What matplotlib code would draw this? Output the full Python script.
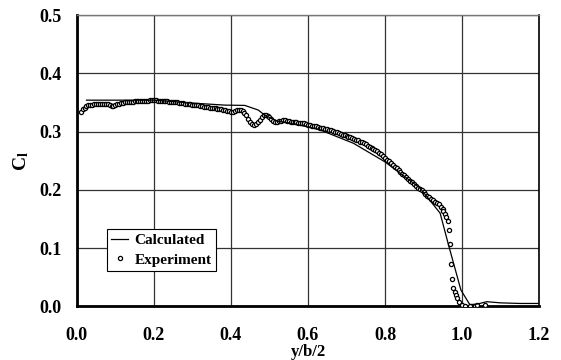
import numpy as np
import matplotlib
matplotlib.use("Agg")
import matplotlib.pyplot as plt

plt.rcParams['font.family'] = ['Liberation Serif', 'DejaVu Serif']
plt.rcParams['font.weight'] = 'bold'
plt.rcParams['mathtext.fontset'] = 'custom'
plt.rcParams['mathtext.rm'] = 'Liberation Serif:bold'
plt.rcParams['mathtext.bf'] = 'Liberation Serif:bold'
plt.rcParams['mathtext.it'] = 'Liberation Serif:bold'

# Calculated
calc_x = [0.025, 0.10, 0.20, 0.30, 0.384, 0.436, 0.471, 0.488, 0.52, 0.55, 0.60, 0.631,
          0.718, 0.80, 0.891, 0.943, 0.965, 0.997, 1.02, 1.04, 1.064, 1.10, 1.15, 1.20]
calc_y = [0.354, 0.354, 0.354, 0.349, 0.3455, 0.345, 0.337, 0.328, 0.318, 0.315, 0.308, 0.303,
          0.280, 0.248, 0.203, 0.160, 0.105, 0.028, 0.003, 0.004, 0.008, 0.006, 0.005, 0.005]

# Experiment (main band, spacing 0.005 from 0.010 to 0.950)
exp_band_x = np.round(np.arange(0.010, 0.9501, 0.005), 3)
exp_band_y = [
    0.334, 0.338, 0.341, 0.344, 0.345, 0.346, 0.346, 0.347, 0.347, 0.347,
    0.348, 0.348, 0.348, 0.348, 0.347, 0.346, 0.344, 0.344, 0.345, 0.347,
    0.348, 0.349, 0.349, 0.350, 0.350, 0.351, 0.351, 0.351, 0.352, 0.352,
    0.352, 0.352, 0.353, 0.353, 0.353, 0.353, 0.354, 0.354, 0.354, 0.354,
    0.353, 0.353, 0.353, 0.352, 0.352, 0.352, 0.351, 0.351, 0.351, 0.350,
    0.350, 0.349, 0.349, 0.349, 0.348, 0.348, 0.347, 0.347, 0.346, 0.346,
    0.345, 0.345, 0.344, 0.344, 0.343, 0.343, 0.342, 0.341, 0.341, 0.340,
    0.340, 0.339, 0.339, 0.338, 0.337, 0.337, 0.336, 0.335, 0.334, 0.334,
    0.335, 0.337, 0.337, 0.337, 0.335, 0.332, 0.328, 0.322, 0.317, 0.313,
    0.312, 0.313, 0.316, 0.320, 0.325, 0.328, 0.328, 0.327, 0.325, 0.322,
    0.319, 0.317, 0.317, 0.318, 0.319, 0.320, 0.320, 0.319, 0.318, 0.317,
    0.317, 0.316, 0.316, 0.315, 0.315, 0.314, 0.314, 0.313, 0.312, 0.311,
    0.310, 0.310, 0.309, 0.308, 0.307, 0.306, 0.306, 0.305, 0.304, 0.303,
    0.302, 0.301, 0.300, 0.299, 0.297, 0.296, 0.295, 0.294, 0.292, 0.291,
    0.290, 0.289, 0.288, 0.286, 0.285, 0.283, 0.282, 0.280, 0.278, 0.276,
    0.274, 0.272, 0.270, 0.268, 0.266, 0.264, 0.261, 0.258, 0.255, 0.252,
    0.249, 0.246, 0.243, 0.240, 0.237, 0.234, 0.231, 0.228, 0.225, 0.222,
    0.219, 0.216, 0.213, 0.210, 0.207, 0.204, 0.202, 0.199, 0.196, 0.193,
    0.190, 0.187, 0.184, 0.182, 0.179, 0.177, 0.175, 0.171, 0.167,
]
# Experiment (tip region)
exp_tip_x = [0.951, 0.955, 0.958, 0.963, 0.965, 0.969, 0.971, 0.973, 0.977, 0.982,
             0.984, 0.988, 0.993, 0.999, 1.008, 1.021, 1.034, 1.038, 1.060]
exp_tip_y = [0.163, 0.158, 0.153, 0.146, 0.131, 0.107, 0.073, 0.047, 0.032, 0.025,
             0.020, 0.014, 0.008, 0.003, 0.001, 0.001, 0.001, 0.002, 0.002]

exp_x = list(exp_band_x) + exp_tip_x
exp_y = exp_band_y + exp_tip_y

fig = plt.figure(figsize=(5.61, 3.6), dpi=100)
ax = fig.add_axes([0.137, 0.149, 0.824, 0.809])

ax.plot(exp_x, exp_y, linestyle='none', marker='o', markersize=3.0,
        markerfacecolor='white', markeredgecolor='black', markeredgewidth=0.9,
        label='Experiment', zorder=3)
ax.plot(calc_x, calc_y, color='black', linewidth=0.9, label='Calculated', zorder=4)

ax.set_xlim(0, 1.2)
ax.set_ylim(0, 0.5)
ax.set_xticks([0.0, 0.2, 0.4, 0.6, 0.8, 1.0, 1.2])
ax.set_yticks([0.0, 0.1, 0.2, 0.3, 0.4, 0.5])
ax.set_xticklabels(['%.1f' % v for v in ax.get_xticks()])
ax.set_yticklabels(['%.1f' % v for v in ax.get_yticks()])
ax.grid(True, color='#333333', linewidth=0.9)
ax.set_axisbelow(True)
ax.tick_params(axis='both', length=0, labelsize=13)
ax.tick_params(axis='x', pad=15)
ax.tick_params(axis='y', pad=11)

for s in ['left', 'bottom']:
    ax.spines[s].set_linewidth(2.0)
ax.spines['top'].set_color('#777777')
ax.spines['top'].set_linewidth(1.0)
ax.spines['right'].set_linewidth(1.2)

ax.set_xlabel('y/b/2', fontsize=12, fontweight='bold', labelpad=0)
ax.set_ylabel(r'$\mathbf{C_l}$', fontsize=14, labelpad=6)

handles, labels = ax.get_legend_handles_labels()
leg = ax.legend([handles[1], handles[0]], [labels[1], labels[0]],
                loc='lower left', bbox_to_anchor=(0.065, 0.121),
                fancybox=False, framealpha=1, edgecolor='black',
                prop={'family': 'Liberation Serif', 'weight': 'bold', 'size': 11},
                handlelength=1.1, handletextpad=0.4, borderpad=0.3,
                labelspacing=0.35, borderaxespad=0)
leg.get_frame().set_linewidth(0.8)

fig.savefig('out.png', dpi=100)
